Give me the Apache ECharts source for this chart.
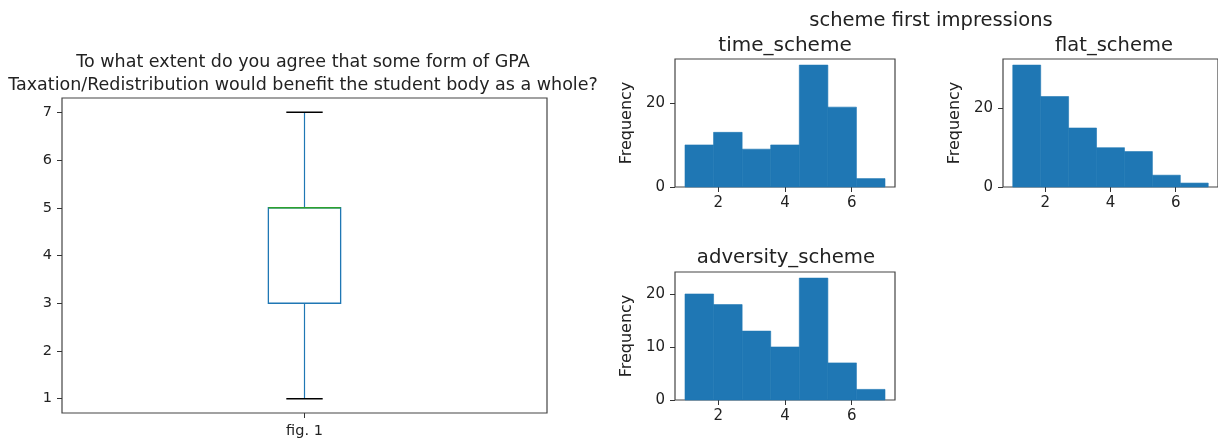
<!DOCTYPE html>
<html>
<head>
<meta charset="utf-8">
<script src="https://cdn.jsdelivr.net/npm/echarts@6/dist/echarts.min.js"></script>
<style>
html,body{margin:0;padding:0;background:#fff;}
#chart{width:1218px;height:441px;}
</style>
</head>
<body>
<div id="chart"></div>
<script>
// ---- data ----
const boxCategories = ['fig. 1'];
const boxStats = [[1, 3, 5, 5, 7]]; // min, Q1, median, Q3, max
const boxTicks = [1, 2, 3, 4, 5, 6, 7];
const binEdges = [1, 1.857, 2.714, 3.571, 4.429, 5.286, 6.143, 7];
const timeScheme = [10, 13, 9, 10, 29, 19, 2];
const flatScheme = [31, 23, 15, 10, 9, 3, 1];
const adversityScheme = [20, 18, 13, 10, 23, 7, 2];
const histXTicks = [2, 4, 6];
const timeYTicks = [0, 20];
const flatYTicks = [0, 20];
const adversityYTicks = [0, 10, 20];

const FONT = 'DejaVu Sans';
const TXT = '#222';
const BLUE = '#1f77b4';

function histData(counts) {
  return counts.map((c, i) => [binEdges[i], binEdges[i + 1], c]);
}

function histItem(params, api) {
  const p0 = api.coord([api.value(0), api.value(2)]);
  const p1 = api.coord([api.value(1), 0]);
  return {
    type: 'rect',
    shape: { x: p0[0], y: p0[1], width: p1[0] - p0[0], height: p1[1] - p0[1] },
    style: { fill: BLUE, stroke: BLUE, lineWidth: 0.6 }
  };
}

function boxItem(params, api) {
  const c = api.value(0);
  const band = api.size([1, 0])[0];
  const pMin = api.coord([c, api.value(1)]);
  const pQ1 = api.coord([c, api.value(2)]);
  const pMed = api.coord([c, api.value(3)]);
  const pQ3 = api.coord([c, api.value(4)]);
  const pMax = api.coord([c, api.value(5)]);
  const cx = pMin[0];
  const bw = band * 0.149;
  const cw = band * 0.075;
  return {
    type: 'group',
    children: [
      { type: 'line', shape: { x1: cx, y1: pMin[1], x2: cx, y2: pQ1[1] }, style: { stroke: BLUE, lineWidth: 1.2 } },
      { type: 'line', shape: { x1: cx, y1: pQ3[1], x2: cx, y2: pMax[1] }, style: { stroke: BLUE, lineWidth: 1.2 } },
      { type: 'rect', shape: { x: cx - bw / 2, y: pQ3[1], width: bw, height: pQ1[1] - pQ3[1] }, style: { fill: 'none', stroke: BLUE, lineWidth: 1.3 } },
      { type: 'line', shape: { x1: cx - bw / 2, y1: pMed[1], x2: cx + bw / 2, y2: pMed[1] }, style: { stroke: '#2ca02c', lineWidth: 1.3 } },
      { type: 'line', shape: { x1: cx - cw / 2, y1: pMin[1], x2: cx + cw / 2, y2: pMin[1] }, style: { stroke: '#000', lineWidth: 1.5 } },
      { type: 'line', shape: { x1: cx - cw / 2, y1: pMax[1], x2: cx + cw / 2, y2: pMax[1] }, style: { stroke: '#000', lineWidth: 1.5 } }
    ]
  };
}

const gridBase = { show: true, borderColor: '#444', borderWidth: 1.2, backgroundColor: '#fff', containLabel: false };

function histX(gridIndex) {
  return {
    type: 'value', gridIndex, min: 0.7, max: 7.3,
    axisLine: { show: false },
    splitLine: { show: false },
    axisTick: { show: true, length: 5, lineStyle: { color: '#333' }, customValues: histXTicks },
    axisLabel: { color: TXT, fontFamily: FONT, fontSize: 15, margin: 9, customValues: histXTicks }
  };
}
function histY(gridIndex, max, ticks) {
  return {
    type: 'value', gridIndex, min: 0, max,
    name: 'Frequency', nameLocation: 'middle', nameRotate: 90, nameGap: 40,
    nameTextStyle: { color: TXT, fontFamily: FONT, fontSize: 16 },
    axisLine: { show: false },
    splitLine: { show: false },
    axisTick: { show: true, length: 5, lineStyle: { color: '#333' }, customValues: ticks },
    axisLabel: { color: TXT, fontFamily: FONT, fontSize: 15, margin: 10, customValues: ticks }
  };
}

const titleStyle = (size) => ({ color: TXT, fontFamily: FONT, fontSize: size, fontWeight: 'normal' });

const option = {
  animation: false,
  backgroundColor: '#fff',
  title: [
    { text: 'To what extent do you agree that some form of GPA\nTaxation/Redistribution would benefit the student body as a whole?',
      left: 298, top: 46, textAlign: 'center', textStyle: Object.assign(titleStyle(17.5), { lineHeight: 23 }) },
    { text: 'scheme first impressions', left: 926, top: 6, textAlign: 'center', textStyle: titleStyle(19.5) },
    { text: 'time_scheme', left: 780, top: 31, textAlign: 'center', textStyle: titleStyle(20) },
    { text: 'flat_scheme', left: 1109, top: 31, textAlign: 'center', textStyle: titleStyle(19.5) },
    { text: 'adversity_scheme', left: 781, top: 243, textAlign: 'center', textStyle: titleStyle(19.7) }
  ],
  grid: [
    Object.assign({ left: 62, top: 98, width: 485, height: 315 }, gridBase),
    Object.assign({ left: 675, top: 59, width: 220, height: 128 }, gridBase),
    Object.assign({ left: 1003, top: 59, width: 221, height: 128 }, gridBase),
    Object.assign({ left: 675, top: 272, width: 220, height: 128 }, gridBase)
  ],
  xAxis: [
    { type: 'category', gridIndex: 0, data: boxCategories, boundaryGap: true,
      axisLine: { show: false }, splitLine: { show: false },
      axisTick: { show: true, alignWithLabel: true, length: 5, lineStyle: { color: '#333' } },
      axisLabel: { color: TXT, fontFamily: FONT, fontSize: 14.5, margin: 11 } },
    histX(1), histX(2), histX(3)
  ],
  yAxis: [
    { type: 'value', gridIndex: 0, min: 0.7, max: 7.3,
      axisLine: { show: false }, splitLine: { show: false },
      axisTick: { show: true, length: 5, lineStyle: { color: '#333' }, customValues: boxTicks },
      axisLabel: { color: TXT, fontFamily: FONT, fontSize: 14.5, margin: 10, customValues: boxTicks } },
    histY(1, 30.45, timeYTicks),
    histY(2, 32.55, flatYTicks),
    histY(3, 24.15, adversityYTicks)
  ],
  series: [
    { type: 'custom', xAxisIndex: 0, yAxisIndex: 0, renderItem: boxItem,
      encode: { x: 0, y: [1, 2, 3, 4, 5] },
      data: boxStats.map((s, i) => [i].concat(s)) },
    { type: 'custom', xAxisIndex: 1, yAxisIndex: 1, renderItem: histItem, encode: { x: [0, 1], y: 2 }, data: histData(timeScheme) },
    { type: 'custom', xAxisIndex: 2, yAxisIndex: 2, renderItem: histItem, encode: { x: [0, 1], y: 2 }, data: histData(flatScheme) },
    { type: 'custom', xAxisIndex: 3, yAxisIndex: 3, renderItem: histItem, encode: { x: [0, 1], y: 2 }, data: histData(adversityScheme) }
  ]
};

const chart = echarts.init(document.getElementById('chart'), null, { renderer: 'canvas' });
chart.setOption(option);
</script>
</body>
</html>
